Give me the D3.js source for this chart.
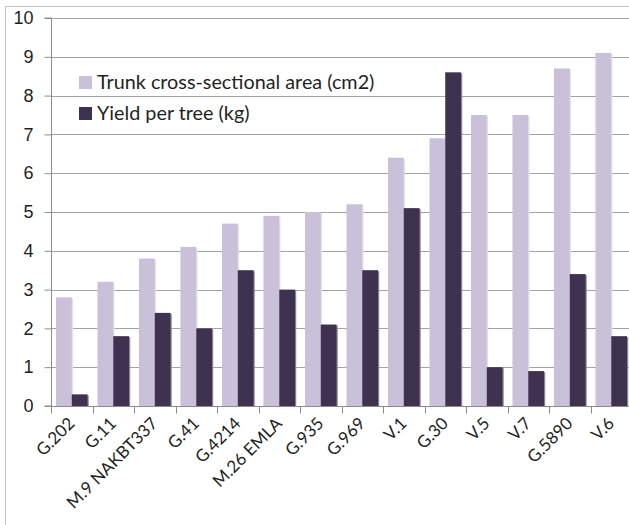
<!DOCTYPE html>
<html>
<head>
<meta charset="utf-8">
<script src="https://cdn.jsdelivr.net/npm/d3@7"></script>
<style>
  html, body { margin: 0; padding: 0; background: #fff; }
  svg { display: block; font-family: Lato, "Open Sans", sans-serif; }
</style>
</head>
<body>
<svg id="chart" width="629" height="525"></svg>
<script>
// Rootstocks and their measured values
const categories = ["G.202", "G.11", "M.9 NAKBT337", "G.41", "G.4214", "M.26 EMLA", "G.935",
  "G.969", "V.1", "G.30", "V.5", "V.7", "G.5890", "V.6"];
const trunkArea = [2.8, 3.2, 3.8, 4.1, 4.7, 4.9, 5.0, 5.2, 6.4, 6.9, 7.5, 7.5, 8.7, 9.1];
const yieldPerTree = [0.3, 1.8, 2.4, 2.0, 3.5, 3.0, 2.1, 3.5, 5.1, 8.6, 1.0, 0.9, 3.4, 1.8];
const seriesNames = ["Trunk cross-sectional area (cm2)", "Yield per tree (kg)"];
const yTicks = [0, 1, 2, 3, 4, 5, 6, 7, 8, 9, 10];

const colors = ["#C9C0DA", "#3F3150"];
const series = [trunkArea, yieldPerTree];

const svg = d3.select("#chart");

// Plot area (the right side runs slightly past the frame)
const plotLeft = 51, plotTop = 18, plotBottom = 406, plotRight = 632;

// Outer chart frame
svg.append("rect")
  .attr("x", 5.5).attr("y", 6.5)
  .attr("width", 660).attr("height", 560)
  .attr("fill", "none").attr("stroke", "#C4C4C4").attr("stroke-width", 1);

const x = d3.scaleBand().domain(categories).range([plotLeft, plotRight])
  .paddingInner(0.24).paddingOuter(0.12);
const xFull = d3.scaleBand().domain(categories).range([plotLeft, plotRight]).padding(0);
const xSub = d3.scaleBand().domain([0, 1]).range([0, x.bandwidth()]).padding(0);
const y = d3.scaleLinear().domain([0, 10]).range([plotBottom, plotTop]);

// Horizontal gridlines
svg.append("g").selectAll("line").data(yTicks.filter(d => d > 0)).join("line")
  .attr("x1", plotLeft).attr("x2", plotRight)
  .attr("y1", d => Math.round(y(d)) + 0.5).attr("y2", d => Math.round(y(d)) + 0.5)
  .attr("stroke", "#A3A3A3").attr("stroke-width", 1);

// Bars, grouped per rootstock
const groups = svg.append("g").selectAll("g").data(categories).join("g")
  .attr("transform", d => `translate(${x(d)},0)`);

[0, 1].forEach(s => {
  // faint drop shadow on the right edge of each bar
  groups.append("rect")
    .attr("x", () => xSub(s) + 1.2)
    .attr("y", (d, i) => y(series[s][i]) + 1)
    .attr("width", xSub.bandwidth())
    .attr("height", (d, i) => plotBottom - y(series[s][i]) - 1)
    .attr("fill", s === 0 ? "#E4E0EC" : "#8A8494");
  groups.append("rect")
    .attr("x", xSub(s))
    .attr("y", (d, i) => y(series[s][i]))
    .attr("width", xSub.bandwidth())
    .attr("height", (d, i) => plotBottom - y(series[s][i]))
    .attr("fill", colors[s]);
});

// Y axis
const yAxis = d3.axisLeft(y).tickValues(yTicks).tickSize(7).tickPadding(11)
  .tickFormat(d3.format("d"));
const yg = svg.append("g").attr("transform", `translate(${plotLeft + 0.5},0)`).call(yAxis);
yg.select(".domain").attr("stroke", "#8C8C8C").attr("d", `M-7,${plotTop}H0V${plotBottom}H-7`);
yg.selectAll(".tick line").attr("stroke", "#8C8C8C");
yg.selectAll(".tick text").attr("fill", "#1F1F1F").attr("font-size", 18);

// X axis with category boundary ticks
const xg = svg.append("g").attr("transform", `translate(0,${plotBottom + 0.5})`);
xg.append("line").attr("x1", plotLeft).attr("x2", plotRight).attr("stroke", "#8C8C8C");
const boundaries = categories.map(c => xFull(c)).concat([plotRight]);
xg.selectAll("line.tk").data(boundaries).join("line").attr("class", "tk")
  .attr("x1", d => Math.round(d) + 0.5).attr("x2", d => Math.round(d) + 0.5)
  .attr("y1", 0).attr("y2", 7).attr("stroke", "#8C8C8C");

xg.selectAll("text").data(categories).join("text")
  .attr("transform", d => `translate(${xFull(d) + xFull.bandwidth() / 2 + 4},${18}) rotate(-45)`)
  .attr("text-anchor", "end")
  .attr("font-size", 17)
  .attr("fill", "#1F1F1F")
  .text(d => d);

// Legend
const legend = svg.append("g");
seriesNames.forEach((name, i) => {
  const ly = 76 + i * 31;
  legend.append("rect").attr("x", 79).attr("y", ly).attr("width", 13).attr("height", 13)
    .attr("fill", colors[i]);
  legend.append("text").attr("x", 97).attr("y", ly + 13)
    .attr("font-size", 19.8).attr("fill", "#1F1F1F").text(name);
});
</script>
</body>
</html>
